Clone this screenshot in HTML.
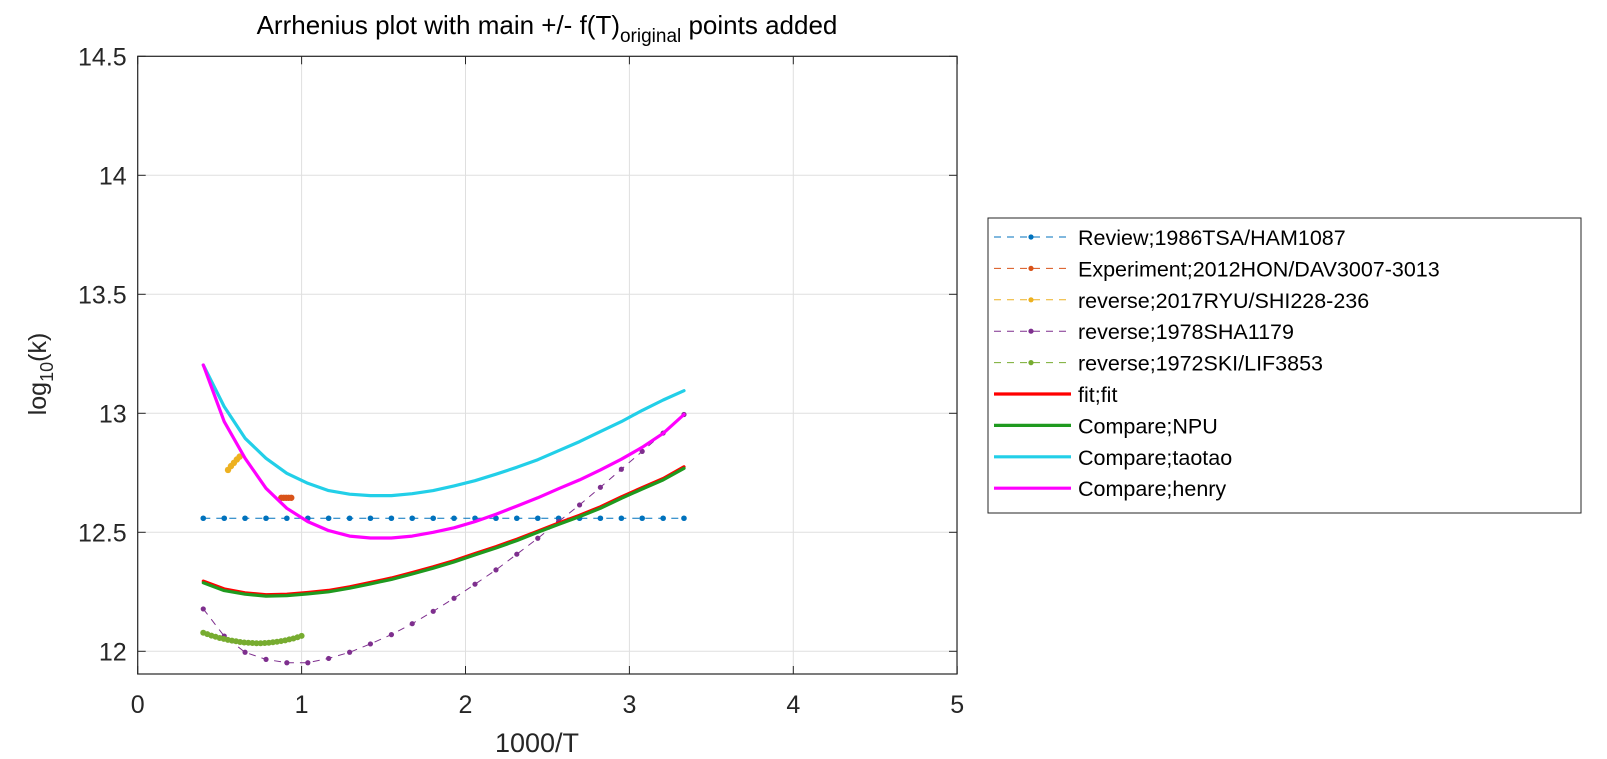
<!DOCTYPE html>
<html><head><meta charset="utf-8">
<style>
html,body{margin:0;padding:0;background:#fff;}
svg{display:block;font-family:"Liberation Sans",Arial,sans-serif;}
</style></head>
<body>
<svg id="chart" width="1607" height="759" viewBox="0 0 1607 759" xmlns="http://www.w3.org/2000/svg">
<rect x="0" y="0" width="1607" height="759" fill="#fff"/>
<g id="grid"></g>
<g id="series"></g>
<g id="axes"></g>
<text x="547" y="34" text-anchor="middle" font-size="26" fill="#000">Arrhenius plot with main +/- f(T)<tspan font-size="19" dy="8">original</tspan><tspan dy="-8"> points added</tspan></text>
<text x="537" y="752" text-anchor="middle" font-size="27" fill="#262626">1000/T</text>
<text transform="translate(46,374) rotate(-90)" text-anchor="middle" font-size="25" fill="#262626">log<tspan font-size="18" dy="7">10</tspan><tspan dy="-7">(k)</tspan></text>
<g id="legend"></g>
</svg>
<script>
const xTicks = [0, 1, 2, 3, 4, 5];
const yTicks = [12, 12.5, 13, 13.5, 14, 14.5];
const xMain = [0.400,0.528,0.655,0.783,0.910,1.038,1.165,1.293,1.420,1.548,1.675,1.803,1.930,2.058,2.186,2.313,2.441,2.568,2.696,2.823,2.951,3.078,3.206,3.333];
const reviewY = [12.559,12.559,12.559,12.559,12.559,12.559,12.559,12.559,12.559,12.559,12.559,12.559,12.559,12.559,12.559,12.559,12.559,12.559,12.559,12.559,12.559,12.559,12.559,12.559];
const shaY = [12.178,12.064,11.996,11.966,11.952,11.952,11.970,11.996,12.031,12.070,12.116,12.168,12.223,12.282,12.342,12.408,12.475,12.545,12.615,12.689,12.765,12.840,12.917,12.995];
const fitY = [12.295,12.262,12.246,12.238,12.240,12.247,12.256,12.271,12.289,12.308,12.331,12.355,12.381,12.411,12.440,12.471,12.505,12.539,12.572,12.607,12.649,12.688,12.726,12.775];
const npuY = [12.288,12.255,12.240,12.232,12.234,12.241,12.250,12.265,12.283,12.302,12.325,12.349,12.375,12.405,12.434,12.465,12.500,12.533,12.566,12.601,12.643,12.682,12.720,12.769];
const taotaoY = [13.203,13.028,12.895,12.811,12.748,12.706,12.675,12.660,12.654,12.654,12.662,12.675,12.695,12.717,12.744,12.773,12.805,12.843,12.881,12.923,12.965,13.012,13.056,13.095];
const henryY = [13.203,12.965,12.811,12.685,12.601,12.545,12.507,12.484,12.476,12.476,12.484,12.500,12.519,12.545,12.576,12.610,12.645,12.683,12.720,12.762,12.807,12.857,12.916,12.995];
const expX = [0.876,0.891,0.906,0.921,0.937];
const expY = [12.645,12.645,12.645,12.645,12.645];
const ryuX = [0.551,0.569,0.587,0.605,0.622];
const ryuY = [12.762,12.778,12.792,12.806,12.818];
const skiX = [0.400,0.425,0.450,0.475,0.500,0.525,0.550,0.575,0.600,0.625,0.650,0.675,0.700,0.725,0.750,0.775,0.800,0.825,0.850,0.875,0.900,0.925,0.950,0.975,1.000];
const skiY = [12.078,12.072,12.066,12.061,12.056,12.052,12.048,12.045,12.042,12.039,12.037,12.036,12.035,12.034,12.034,12.035,12.036,12.038,12.040,12.043,12.046,12.050,12.054,12.059,12.065];
const legendLabels = ["Review;1986TSA/HAM1087","Experiment;2012HON/DAV3007-3013","reverse;2017RYU/SHI228-236","reverse;1978SHA1179","reverse;1972SKI/LIF3853","fit;fit","Compare;NPU","Compare;taotao","Compare;henry"];

const L=137.7,R=957,T=56.3,B=674;
function sx(v){return L+v*163.9;}
function sy(v){return 651.3-(v-12)*238;}
const NS="http://www.w3.org/2000/svg";
function mk(tag,attrs,parent){const e=document.createElementNS(NS,tag);for(const k in attrs)e.setAttribute(k,attrs[k]);parent.appendChild(e);return e;}
const grid=document.getElementById('grid'),axes=document.getElementById('axes'),ser=document.getElementById('series'),leg=document.getElementById('legend');

xTicks.forEach(t=>{
  const g=mk('line',{x1:sx(t),x2:sx(t),y1:T,y2:B,stroke:'#dfdfdf','stroke-width':1},grid);
  
  
  const tk=mk('line',{x1:sx(t),x2:sx(t),y1:B,y2:B-8,stroke:'#262626','stroke-width':1},axes);
  
  
  const tk2=mk('line',{x1:sx(t),x2:sx(t),y1:T,y2:T+8,stroke:'#262626','stroke-width':1},axes);
  
  
  const lb=mk('text',{x:sx(t),y:713,'text-anchor':'middle','font-size':25,fill:'#262626'},axes);
  lb.textContent=String(t);
  
  
});
yTicks.forEach(t=>{
  const g=mk('line',{x1:L,x2:R,y1:sy(t),y2:sy(t),stroke:'#dfdfdf','stroke-width':1},grid);
  
  
  const tk=mk('line',{x1:L,x2:L+8,y1:sy(t),y2:sy(t),stroke:'#262626','stroke-width':1},axes);
  
  
  const tk2=mk('line',{x1:R,x2:R-8,y1:sy(t),y2:sy(t),stroke:'#262626','stroke-width':1},axes);
  
  
  const lb=mk('text',{x:L-11,y:sy(t)+9,'text-anchor':'end','font-size':25,fill:'#262626'},axes);
  lb.textContent=String(t);
  
  
});
const box=mk('rect',{x:L,y:T,width:R-L,height:B-T,fill:'none',stroke:'#262626','stroke-width':1.2},axes);



function pts(xs,ys){return xs.map((x,i)=>sx(x).toFixed(1)+','+sy(ys[i]).toFixed(1)).join(' ');}
function dashed(xs,ys,color,name,r,dash){
  const g=mk('g',{},ser);
  
  
  mk('polyline',{points:pts(xs,ys),fill:'none',stroke:color,'stroke-width':1,'stroke-dasharray':dash},g);
  xs.forEach((x,i)=>{
    const c=mk('circle',{cx:sx(x),cy:sy(ys[i]),r:r,fill:color},g);
    
    
  });
}
function solid(xs,ys,color,name,w){
  const p=mk('polyline',{points:pts(xs,ys),fill:'none',stroke:color,'stroke-width':w,'stroke-linejoin':'round','stroke-linecap':'round'},ser);
  
  
}
dashed(xMain,reviewY,'#0072BD','review-1986tsa-series',2.8,'7,6');
dashed(expX,expY,'#D95319','experiment-2012hon-series',3.2,'6,6');
dashed(ryuX,ryuY,'#EDB120','reverse-2017ryu-series',3.2,'6,6');
dashed(xMain,shaY,'#7E2F8E','reverse-1978sha-series',2.6,'7,6');
dashed(skiX,skiY,'#77AC30','reverse-1972ski-series',3,'6,6');
solid(xMain,fitY,'#ff0000','fit-line',3.2);
solid(xMain,npuY,'#1f9a1f','compare-npu-line',3.2);
solid(xMain,taotaoY,'#22cfe8','compare-taotao-line',3.2);
solid(xMain,henryY,'#ff00ff','compare-henry-line',3.2);

const lb=mk('rect',{x:988,y:218,width:593,height:295,fill:'#fff',stroke:'#262626','stroke-width':1},leg);


const legColors=['#0072BD','#D95319','#EDB120','#7E2F8E','#77AC30','#ff0000','#1f9a1f','#22cfe8','#ff00ff'];
legendLabels.forEach((s,i)=>{
  const y=237+i*31.4;
  const g=mk('g',{},leg);
  
  
  if(i<5){
    mk('line',{x1:994,x2:1068,y1:y,y2:y,stroke:legColors[i],'stroke-width':1,'stroke-dasharray':'7,6'},g);
    mk('circle',{cx:1031,cy:y,r:2.6,fill:legColors[i]},g);
  } else {
    mk('line',{x1:994,x2:1071,y1:y,y2:y,stroke:legColors[i],'stroke-width':3.2},g);
  }
  const t=mk('text',{x:1078,y:y+8,'font-size':21.5,fill:'#000'},g);
  t.textContent=s;
});
</script>
</body></html>
